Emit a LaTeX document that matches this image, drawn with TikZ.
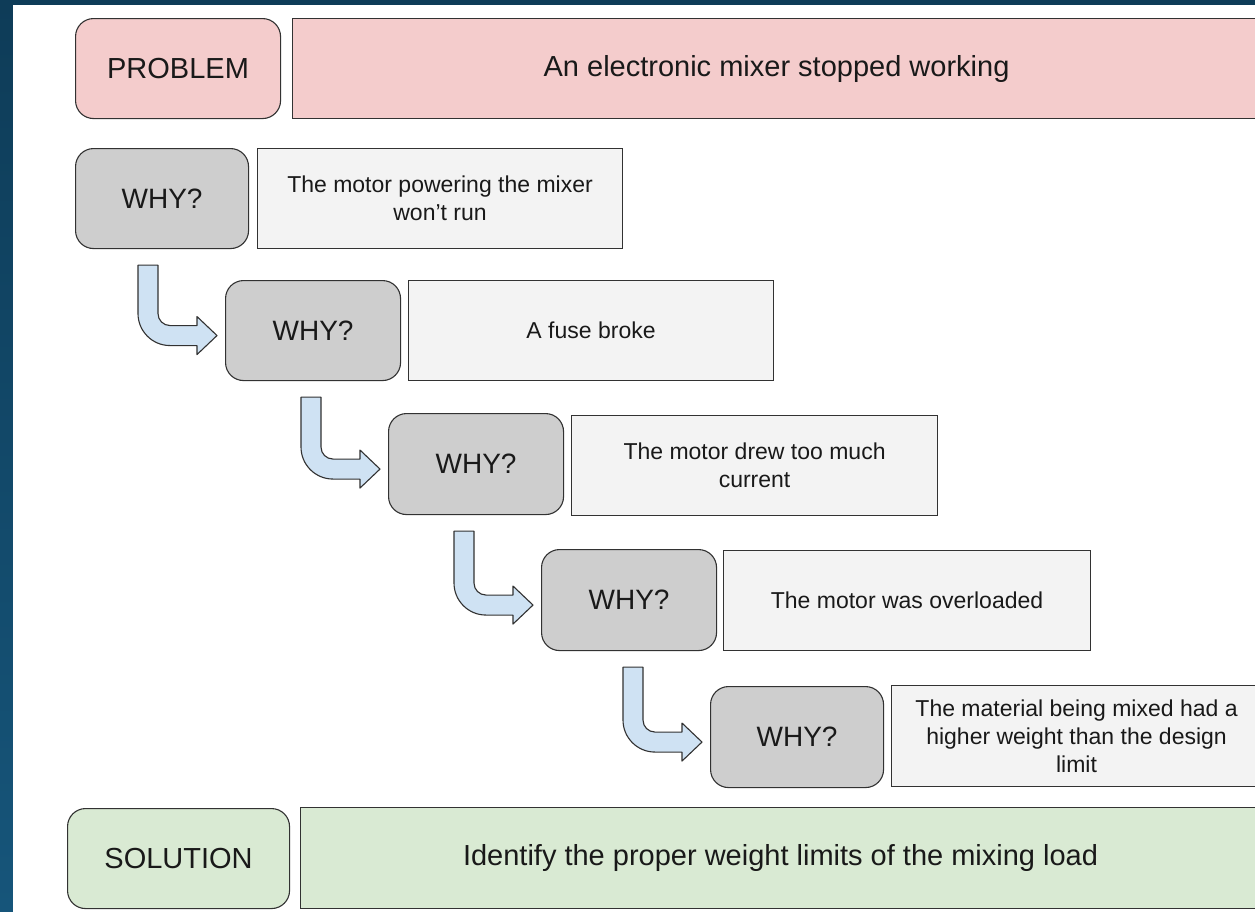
\documentclass[tikz,border=0pt]{standalone}
\usepackage{fontspec}
\setmainfont{Liberation Sans}
\usetikzlibrary{calc}

\definecolor{bgtop}{RGB}{14,60,88}
\definecolor{bgbot}{RGB}{22,85,122}
\definecolor{pinkfill}{RGB}{244,204,204}
\definecolor{greyfill}{RGB}{206,206,206}
\definecolor{paleFill}{RGB}{243,243,243}
\definecolor{greenfill}{RGB}{217,234,211}
\definecolor{arrowfill}{RGB}{207,226,243}
\definecolor{edge}{RGB}{50,50,50}
\definecolor{ink}{RGB}{25,25,25}

\tikzset{
  boxbase/.style={draw=edge, line width=1.1pt, anchor=north west, inner sep=0pt,
    text=ink, align=center},
  labelbox/.style={boxbase, rounded corners=18pt, minimum height=100pt,
    font=\fontsize{29}{34}\selectfont},
  whybox/.style={labelbox, fill=greyfill, font=\fontsize{28}{33}\selectfont},
  answerbox/.style={boxbase, fill=paleFill, minimum height=100pt,
    font=\fontsize{23}{28}\selectfont},
  headbox/.style={boxbase, minimum height=100pt, font=\fontsize{29}{34}\selectfont},
  bentar/.style={draw=edge, line width=1.1pt, fill=arrowfill, line join=round}
}

% bent block arrow from below one WHY box to the left side of the next one
\newcommand{\bentarrow}[2]{%
  \path[bentar] let \p1=(#1.south), \p2=(#2.west) in
    ({\x2-87pt},{\y1-16pt}) -- ({\x2-87pt},{\y2+17pt})
    arc[start angle=180, end angle=270, radius=32pt]
    -- ({\x2-28pt},{\y2-15pt}) -- ({\x2-28pt},{\y2-24pt})
    -- ({\x2-8pt},{\y2-5pt})
    -- ({\x2-28pt},{\y2+14pt}) -- ({\x2-28pt},{\y2+5pt})
    -- ({\x2-55pt},{\y2+5pt})
    arc[start angle=270, end angle=180, radius=12pt]
    -- ({\x2-67pt},{\y1-16pt}) -- cycle;}

\begin{document}
\begin{tikzpicture}[x=1pt, y=-1pt]
  \useasboundingbox (0,0) rectangle (1255,911);
  \clip (0,0) rectangle (1255,911);
  % page backdrop
  \shade[top color=bgtop, bottom color=bgbot] (0,0) rectangle (1255,911);
  \fill[white] (13,5) rectangle (1260,915);

  % problem row
  \node[labelbox, fill=pinkfill, minimum width=205pt] (prob) at (75,18) {PROBLEM};
  \node[headbox, fill=pinkfill, minimum width=968pt] (probtxt) at (292,18)
    {An electronic mixer stopped working};

  % the five whys
  \node[whybox, minimum width=173pt] (why1) at (75,148) {WHY?};
  \node[answerbox, minimum width=365pt] (ans1) at (257,148)
    {The motor powering the mixer\\won’t run};

  \node[whybox, minimum width=175pt] (why2) at (225,280) {WHY?};
  \node[answerbox, minimum width=365pt] (ans2) at (408,280) {A fuse broke};

  \node[whybox, minimum width=175pt, minimum height=101pt] (why3) at (388,413) {WHY?};
  \node[answerbox, minimum width=366pt] (ans3) at (571,415)
    {The motor drew too much\\current};

  \node[whybox, minimum width=175pt, minimum height=101pt] (why4) at (541,549) {WHY?};
  \node[answerbox, minimum width=367pt] (ans4) at (723,550) {The motor was overloaded};

  \node[whybox, minimum width=173pt, minimum height=101pt] (why5) at (710,686) {WHY?};
  \node[answerbox, minimum width=370pt, minimum height=101pt] (ans5) at (891,685)
    {The material being mixed had a\\higher weight than the design\\limit};

  % connectors between the whys
  \bentarrow{why1}{why2}
  \bentarrow{why2}{why3}
  \bentarrow{why3}{why4}
  \bentarrow{why4}{why5}

  % solution row
  \node[labelbox, fill=greenfill, minimum width=222pt] (sol) at (67,808) {SOLUTION};
  \node[headbox, fill=greenfill, minimum width=960pt, minimum height=101pt] (soltxt) at (300,807)
    {Identify the proper weight limits of the mixing load};
\end{tikzpicture}
\end{document}
